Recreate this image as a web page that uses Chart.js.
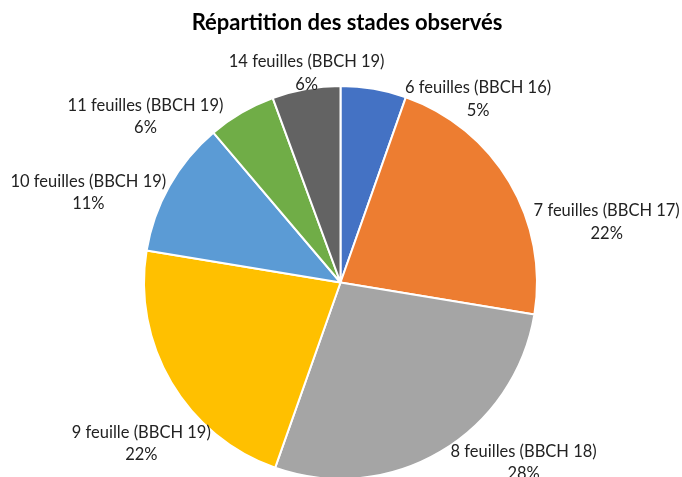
<!DOCTYPE html>
<html>
<head>
<meta charset="utf-8">
<script src="https://cdn.jsdelivr.net/npm/chart.js@4.4.0/dist/chart.umd.min.js"></script>
<style>
  html, body { margin: 0; padding: 0; background: #fff; }
  #wrap { width: 682px; height: 477px; }
</style>
</head>
<body>
<div id="wrap"><canvas id="c" width="682" height="477"></canvas></div>
<script>
const chartTitle = "Répartition des stades observés";
const categories = [
  "6 feuilles (BBCH 16)",
  "7 feuilles (BBCH 17)",
  "8 feuilles (BBCH 18)",
  "9 feuille (BBCH 19)",
  "10 feuilles (BBCH 19)",
  "11 feuilles (BBCH 19)",
  "14 feuilles (BBCH 19)"
];
const shares = [5.4, 22.2, 27.8, 22.2, 11.2, 5.6, 5.6];
const sliceColors = ["#4472C4", "#ED7D31", "#A5A5A5", "#FFC000", "#5B9BD5", "#70AD47", "#636363"];
// label placement nudges (px) relative to a point just outside each slice
const labelNudge = [[102, 24], [85, 47], [76, -1], [-18, 54], [-69, 14], [-89, 16], [3, -2]];

const titlePlugin = {
  id: 'customTitle',
  afterDraw(chart) {
    const ctx = chart.ctx;
    ctx.save();
    ctx.font = "bold 22px Lato";
    ctx.fillStyle = "#000";
    ctx.textAlign = "center";
    ctx.textBaseline = "middle";
    ctx.fillText(chartTitle, 347, 23);
    ctx.restore();
  }
};

const labelPlugin = {
  id: 'outsideLabels',
  afterDatasetsDraw(chart) {
    const ctx = chart.ctx;
    const meta = chart.getDatasetMeta(0);
    const data = chart.data.datasets[0].data;
    const total = data.reduce((a, b) => a + b, 0);
    ctx.save();
    ctx.font = "16.5px Lato";
    ctx.fillStyle = "#222";
    ctx.textAlign = "center";
    ctx.textBaseline = "middle";
    meta.data.forEach((arc, i) => {
      const p = arc.getProps(['x', 'y', 'startAngle', 'endAngle', 'outerRadius'], true);
      const mid = (p.startAngle + p.endAngle) / 2;
      const r = p.outerRadius + 14;
      const cx = p.x + Math.cos(mid) * r + labelNudge[i][0];
      const cy = p.y + Math.sin(mid) * r + labelNudge[i][1];
      ctx.fillText(chart.data.labels[i], cx, cy - 11.25);
      ctx.fillText(Math.round(data[i] / total * 100) + "%", cx, cy + 11.25);
    });
    ctx.restore();
  }
};

new Chart(document.getElementById('c'), {
  type: 'pie',
  data: {
    labels: categories,
    datasets: [{
      data: shares,
      backgroundColor: sliceColors,
      borderColor: "#ffffff",
      borderWidth: 2,
      clip: false
    }]
  },
  options: {
    responsive: false,
    animation: false,
    radius: 196.5,
    layout: { padding: { top: 88, bottom: 0, left: 0, right: 1 } },
    plugins: {
      legend: { display: false },
      title: { display: false },
      tooltip: { enabled: false }
    }
  },
  plugins: [labelPlugin, titlePlugin]
});
</script>
</body>
</html>
